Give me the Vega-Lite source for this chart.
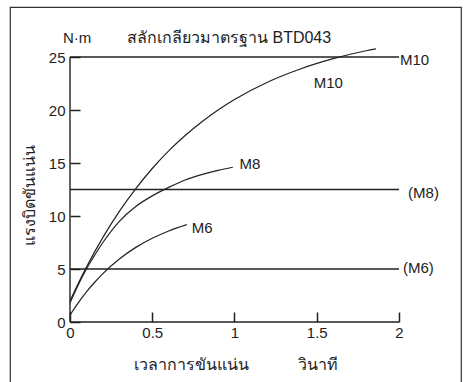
{
  "$schema": "https://vega.github.io/schema/vega-lite/v6.json",
  "width": 451,
  "height": 378,
  "autosize": "none",
  "padding": {"left": 10, "top": 7, "right": 4, "bottom": 0},
  "background": "white",
  "config": {"view": {"stroke": "#333333", "strokeWidth": 1.2}, "font": "Liberation Sans"},
  "datasets": {
    "axes": [
      {"x": 0, "x2": 2, "y": 0, "y2": 0},
      {"x": 0, "x2": 0, "y": 0, "y2": 25}
    ],
    "hlines": [
      {"name": "M10", "x": 0, "x2": 2, "y": 25},
      {"name": "M8", "x": 0, "x2": 2, "y": 12.5},
      {"name": "M6", "x": 0, "x2": 2, "y": 5}
    ],
    "curves": [
      {"series": "M10", "x": 0, "y": 2.0},
      {"series": "M10", "x": 0.05, "y": 3.64},
      {"series": "M10", "x": 0.1, "y": 5.18},
      {"series": "M10", "x": 0.2, "y": 7.98},
      {"series": "M10", "x": 0.3, "y": 10.43},
      {"series": "M10", "x": 0.4, "y": 12.58},
      {"series": "M10", "x": 0.5, "y": 14.48},
      {"series": "M10", "x": 0.6, "y": 16.14},
      {"series": "M10", "x": 0.7, "y": 17.59},
      {"series": "M10", "x": 0.8, "y": 18.87},
      {"series": "M10", "x": 0.9, "y": 20.0},
      {"series": "M10", "x": 1.0, "y": 20.99},
      {"series": "M10", "x": 1.2, "y": 22.62},
      {"series": "M10", "x": 1.4, "y": 23.87},
      {"series": "M10", "x": 1.6, "y": 24.84},
      {"series": "M10", "x": 1.8, "y": 25.59},
      {"series": "M10", "x": 1.86, "y": 25.77},
      {"series": "M8", "x": 0, "y": 1.8},
      {"series": "M8", "x": 0.05, "y": 3.5},
      {"series": "M8", "x": 0.1, "y": 5.0},
      {"series": "M8", "x": 0.15, "y": 6.3},
      {"series": "M8", "x": 0.2, "y": 7.5},
      {"series": "M8", "x": 0.3, "y": 9.5},
      {"series": "M8", "x": 0.4, "y": 10.9},
      {"series": "M8", "x": 0.5, "y": 11.9},
      {"series": "M8", "x": 0.6, "y": 12.7},
      {"series": "M8", "x": 0.7, "y": 13.4},
      {"series": "M8", "x": 0.8, "y": 13.9},
      {"series": "M8", "x": 0.9, "y": 14.3},
      {"series": "M8", "x": 0.99, "y": 14.6},
      {"series": "M6", "x": 0, "y": 0.66},
      {"series": "M6", "x": 0.05, "y": 1.81},
      {"series": "M6", "x": 0.1, "y": 2.84},
      {"series": "M6", "x": 0.15, "y": 3.75},
      {"series": "M6", "x": 0.2, "y": 4.57},
      {"series": "M6", "x": 0.3, "y": 5.94},
      {"series": "M6", "x": 0.4, "y": 7.04},
      {"series": "M6", "x": 0.5, "y": 7.9},
      {"series": "M6", "x": 0.6, "y": 8.59},
      {"series": "M6", "x": 0.71, "y": 9.19}
    ],
    "labelsL": [
      {"label": "M8", "x": 1.03, "y": 14.9},
      {"label": "M6", "x": 0.74, "y": 8.84},
      {"label": "M10", "x": 2.006, "y": 24.72},
      {"label": "(M8)", "x": 2.055, "y": 12.17},
      {"label": "(M6)", "x": 2.024, "y": 5.09}
    ],
    "labelsC": [
      {"label": "M10", "x": 1.57, "y": 22.55},
      {"label": "N·m", "x": 0.043, "y": 26.79}
    ],
    "thai": [
      {"label": "สลักเกลียวมาตรฐาน BTD043", "x": 0.967, "y": 26.79},
      {"label": "เวลาการขันแน่น", "x": 0.739, "y": -4.06},
      {"label": "วินาที", "x": 1.505, "y": -4.06}
    ],
    "ytitle": [
      {"label": "แรงบิดขันแน่น", "x": -0.243, "y": 11.89}
    ]
  },
  "encoding": {
    "x": {
      "field": "x",
      "type": "quantitative",
      "scale": {"domain": [-0.36474, 2.3769], "nice": false, "zero": false},
      "axis": {
        "orient": "top",
        "offset": -315,
        "values": [0, 0.5, 1, 1.5, 2],
        "labelExpr": "datum.value + ''",
        "domain": false,
        "grid": false,
        "title": null,
        "ticks": true,
        "tickSize": 10,
        "tickWidth": 1.5,
        "tickColor": "#222222",
        "labelPadding": -13,
        "labelBaseline": "top",
        "labelFontSize": 15,
        "labelFont": "Liberation Sans",
        "labelColor": "#222222",
        "labelOverlap": false,
        "labelBound": false
      }
    },
    "y": {
      "field": "y",
      "type": "quantitative",
      "scale": {"domain": [-5.943, 29.717], "nice": false, "zero": false},
      "axis": {
        "orient": "right",
        "offset": -391,
        "values": [0, 5, 10, 15, 20, 25],
        "domain": false,
        "grid": false,
        "title": null,
        "ticks": true,
        "tickSize": 10,
        "tickWidth": 1.5,
        "tickColor": "#222222",
        "labelPadding": -15,
        "labelAlign": "right",
        "labelFontSize": 15,
        "labelFont": "Liberation Sans",
        "labelColor": "#222222",
        "labelOverlap": false,
        "labelBound": false
      }
    }
  },
  "layer": [
    {
      "data": {"name": "axes"},
      "mark": {"type": "rule", "color": "#222222", "strokeWidth": 1.4},
      "encoding": {"x2": {"field": "x2"}, "y2": {"field": "y2"}}
    },
    {
      "data": {"name": "hlines"},
      "mark": {"type": "rule", "color": "#222222", "strokeWidth": 1.3},
      "encoding": {"x2": {"field": "x2"}}
    },
    {
      "data": {"name": "curves"},
      "mark": {"type": "line", "interpolate": "monotone", "color": "#222222", "strokeWidth": 1.2, "clip": false},
      "encoding": {"detail": {"field": "series"}}
    },
    {
      "data": {"name": "labelsL"},
      "mark": {"type": "text", "align": "left", "baseline": "middle", "fontSize": 15, "font": "Liberation Sans", "color": "#222222"},
      "encoding": {"text": {"field": "label"}}
    },
    {
      "data": {"name": "labelsC"},
      "mark": {"type": "text", "align": "center", "baseline": "middle", "fontSize": 15, "font": "Liberation Sans", "color": "#222222"},
      "encoding": {"text": {"field": "label"}}
    },
    {
      "data": {"name": "thai"},
      "mark": {"type": "text", "align": "center", "baseline": "middle", "fontSize": 16, "font": "Liberation Sans", "color": "#222222"},
      "encoding": {"text": {"field": "label"}}
    },
    {
      "data": {"name": "ytitle"},
      "mark": {"type": "text", "align": "center", "baseline": "middle", "angle": 270, "fontSize": 16, "font": "Liberation Sans", "color": "#222222"},
      "encoding": {"text": {"field": "label"}}
    }
  ]
}
